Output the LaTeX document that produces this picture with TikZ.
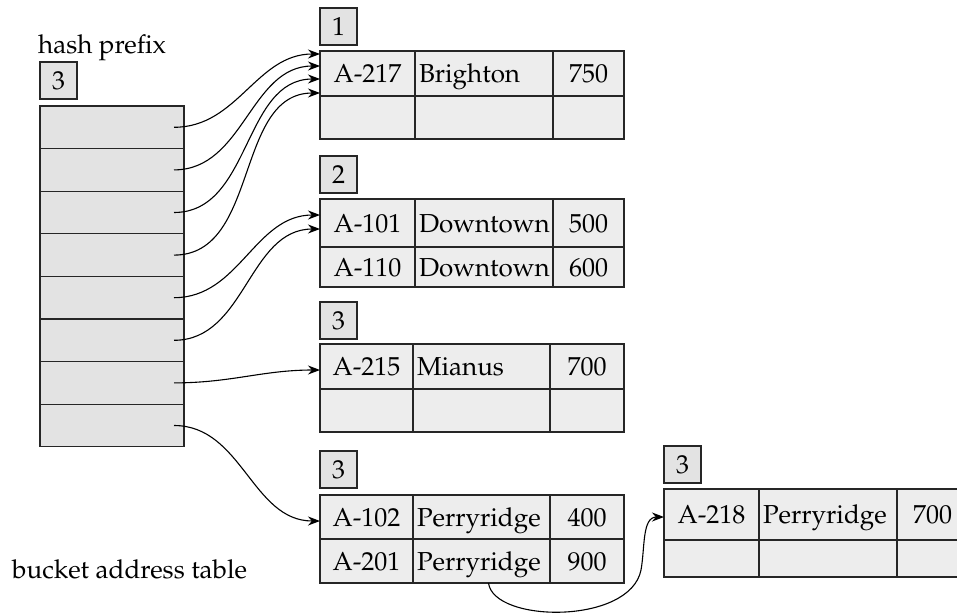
\documentclass[tikz,border=0pt]{standalone}
\usepackage[T1]{fontenc}
\usepackage{mathpazo}
\usetikzlibrary{arrows.meta, positioning, calc}

\begin{document}
\begin{tikzpicture}[
    x=1pt, y=-1pt,
    font=\fontsize{26}{30}\selectfont,
    cell/.style    ={draw=black!85, fill=black!7, line width=1.3pt, outer sep=0pt,
                     inner sep=0pt, minimum width=#1pt, minimum height=44pt,
                     text height=18pt, text depth=0pt},
    lcell/.style   ={cell=#1, align=left, text width=#1pt-8pt},
    dircell/.style ={cell=144, fill=black!11, minimum height=42.6pt},
    depth/.style   ={cell=37, fill=black!11, minimum height=37pt, anchor=north west},
    ptr/.style     ={-{Stealth[length=12pt, width=9pt]}, line width=1.1pt,
                     out=0, in=180},
    caption/.style ={anchor=base west, inner sep=0pt}
]
\clip (0,0) rectangle (957,613);

% =================== bucket address table ===================
\node[caption] (hp) at (38,53) {hash prefix};
\node[depth] (dlbl) at (40,62) {3};
\foreach \i in {1,...,8}
    \node[dircell] (d\i) at (112, {106+42.6*(\i-0.5)}) {};
\node[caption] (bat) at (12,578) {bucket address table};

% =================== bucket 1 ===================
\node[depth] (l1) at (320,8) {1};
\node[cell=95, minimum height=45pt, anchor=north west] (b1a1) at (320,51) {A-217};
\node[lcell=138, minimum height=45pt, right=0pt of b1a1] (b1b1) {Brighton};
\node[cell=71, minimum height=45pt, right=0pt of b1b1] (b1c1) {750};
\node[cell=95, minimum height=43pt, anchor=north west] (b1a2) at (b1a1.south west) {};
\node[cell=138, minimum height=43pt, right=0pt of b1a2] (b1b2) {};
\node[cell=71, minimum height=43pt, right=0pt of b1b2] (b1c2) {};

% =================== bucket 2 ===================
\node[depth] (l2) at (320,156) {2};
\node[cell=95, minimum height=48pt, anchor=north west] (b2a1) at (320,199) {A-101};
\node[lcell=138, minimum height=48pt, right=0pt of b2a1] (b2b1) {Downtown};
\node[cell=71, minimum height=48pt, right=0pt of b2b1] (b2c1) {500};
\node[cell=95, minimum height=40pt, anchor=north west] (b2a2) at (b2a1.south west) {A-110};
\node[lcell=138, minimum height=40pt, right=0pt of b2a2] (b2b2) {Downtown};
\node[cell=71, minimum height=40pt, right=0pt of b2b2] (b2c2) {600};

% =================== bucket 3 ===================
\node[depth] (l3) at (320,302) {3};
\node[cell=93, minimum height=45pt, anchor=north west] (b3a1) at (320,344) {A-215};
\node[lcell=137, minimum height=45pt, right=0pt of b3a1] (b3b1) {Mianus};
\node[cell=74, minimum height=45pt, right=0pt of b3b1] (b3c1) {700};
\node[cell=93, minimum height=43pt, anchor=north west] (b3a2) at (b3a1.south west) {};
\node[cell=137, minimum height=43pt, right=0pt of b3a2] (b3b2) {};
\node[cell=74, minimum height=43pt, right=0pt of b3b2] (b3c2) {};

% =================== bucket 4 ===================
\node[depth] (l4) at (320,451) {3};
\node[cell=93, anchor=north west] (b4a1) at (320,495) {A-102};
\node[lcell=137, right=0pt of b4a1] (b4b1) {Perryridge};
\node[cell=74, right=0pt of b4b1] (b4c1) {400};
\node[cell=93, anchor=north west] (b4a2) at (b4a1.south west) {A-201};
\node[lcell=137, right=0pt of b4a2] (b4b2) {Perryridge};
\node[cell=74, right=0pt of b4b2] (b4c2) {900};

% =================== overflow bucket ===================
\node[depth] (l5) at (664,446) {3};
\node[cell=95, minimum height=51pt, anchor=north west] (ova1) at (664,489) {A-218};
\node[lcell=138, minimum height=51pt, right=0pt of ova1] (ovb1) {Perryridge};
\node[cell=71, minimum height=51pt, right=0pt of ovb1] (ovc1) {700};
\node[cell=95, minimum height=37pt, anchor=north west] (ova2) at (ova1.south west) {};
\node[cell=138, minimum height=37pt, right=0pt of ova2] (ovb2) {};
\node[cell=71, minimum height=37pt, right=0pt of ovb2] (ovc2) {};

% --- pointers ---
\draw[ptr] ($(d1.east)+(-10,0)$) to ($(b1a1.west)+(0,-19.5)$);
\draw[ptr] ($(d2.east)+(-10,0)$) to ($(b1a1.west)+(0,-7.5)$);
\draw[ptr] ($(d3.east)+(-10,0)$) to ($(b1a1.west)+(0,5.5)$);
\draw[ptr] ($(d4.east)+(-10,0)$) to ($(b1a1.west)+(0,19.5)$);
\draw[ptr] ($(d5.east)+(-10,0)$) to ($(b2a1.west)+(0,-8)$);
\draw[ptr] ($(d6.east)+(-10,0)$) to ($(b2a1.west)+(0,6)$);
\draw[ptr] ($(d7.east)+(-10,0)$) to ($(b3a1.west)+(0,3.5)$);
\draw[ptr] ($(d8.east)+(-10,0)$) to ($(b4a1.west)+(0,4)$);

% overflow chain
\coordinate (turn) at (641,570);
\draw[ptr] ($(b4b2.south)+(7,0)$) .. controls +(5,40) and +(-11,55) .. (turn)
    .. controls +(4,-22) and +(-22,0) .. ($(ova1.west)+(0,2.5)$);

\end{tikzpicture}
\end{document}
